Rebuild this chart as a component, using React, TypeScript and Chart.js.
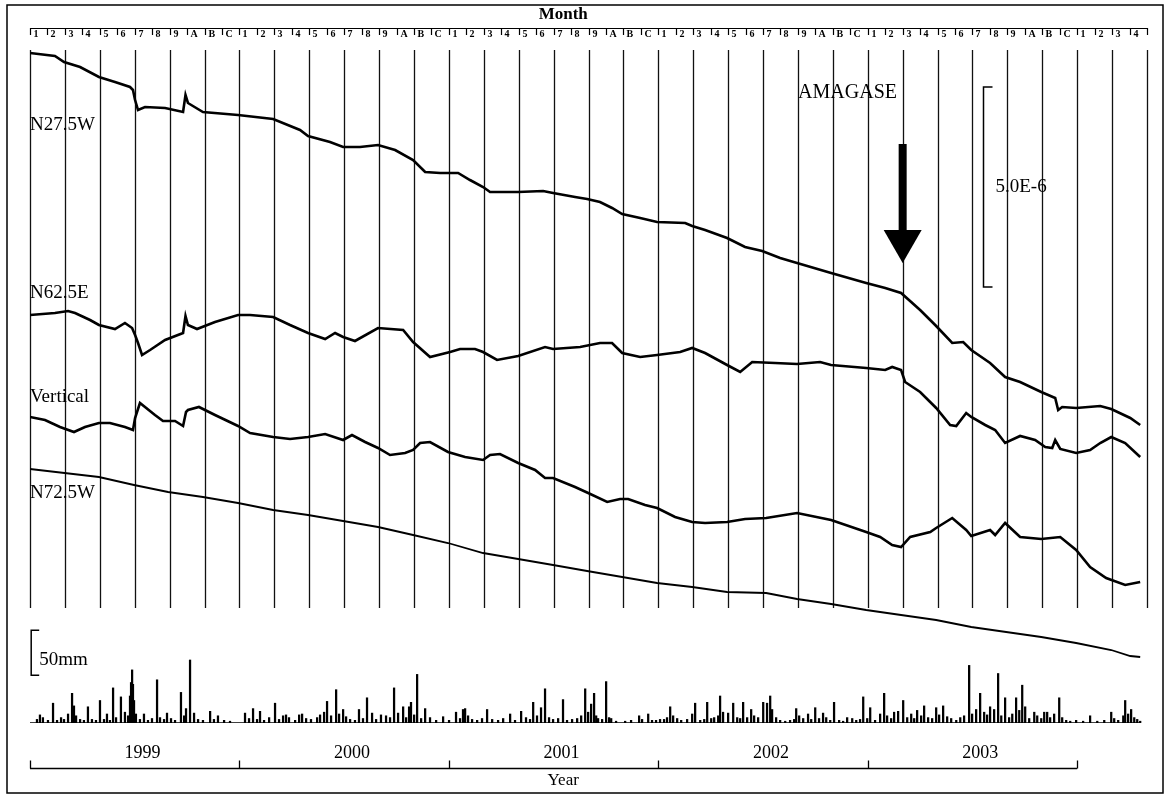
import React, { useEffect, useRef } from 'react';
import { Chart, registerables } from 'chart.js';

Chart.register(...registerables);

// ---------------- data ----------------
const monthLabels = ['1', '2', '3', '4', '5', '6', '7', '8', '9', 'A', 'B', 'C'];
const totalMonths = 64; // Jan 1999 .. Apr 2004
const yearLabels = ['1999', '2000', '2001', '2002', '2003'];
const seriesNames = ['N27.5W', 'N62.5E', 'Vertical', 'N72.5W'];

// strain records: [month index from Jan 1999, strain in 1e-7 (arbitrary offset)]
const n275w: [number, number][] = [
  [0, 167.5], [1.43, 166.75], [1.95, 165.25], [2.87, 164], [3.95, 161.5], [4.87, 160.25], [5.73, 159],
  [5.9, 158.25], [6.02, 155.75], [6.19, 153.25], [6.59, 154], [7.74, 153.75], [8.77, 152.75], [8.91, 157],
  [9.05, 155], [9.91, 152.75], [11.92, 152], [13.93, 151], [15.47, 148.25], [15.93, 146.75], [17.19, 145.25],
  [17.94, 144], [18.91, 144], [19.94, 144.5], [20.92, 143.25], [21.95, 140.75], [22.64, 137.75], [23.5, 137.5],
  [24.53, 137.5], [25.21, 135.75], [25.96, 134], [26.36, 132.75], [27.97, 132.75], [29.4, 133], [29.97, 132.5],
  [31.23, 131.5], [31.92, 131], [32.66, 130.25], [33.35, 128.75], [33.93, 127.25], [34.96, 126.25], [35.93, 125.25],
  [37.54, 125], [37.94, 124.25], [38.68, 123.25], [39.94, 121.25], [40.97, 119], [41.95, 118], [42.98, 116.25],
  [43.95, 115], [45.9, 112.5], [47.91, 110], [49, 108.75], [49.91, 107.5], [51, 103.25], [51.92, 99.25],
  [52.84, 95], [53.47, 95.25], [53.93, 93.25], [55.01, 90], [55.87, 86.5], [56.73, 85.25], [57.94, 82.75],
  [58.74, 81.25], [58.91, 78.25], [59.14, 79], [59.94, 78.75], [61.32, 79.25], [61.95, 78.5], [63.04, 76.25],
  [63.61, 74.5],
];

const n625e: [number, number][] = [
  [0, 102], [1.43, 102.5], [2.18, 103], [2.58, 102.5], [3.44, 100.75], [3.95, 99.5], [4.87, 98.5], [5.44, 100],
  [5.85, 98.75], [6.02, 97], [6.19, 95], [6.42, 92], [6.88, 93.25], [7.74, 95.75], [8.77, 97.5], [8.91, 101.75],
  [9.05, 99.5], [9.57, 98.5], [10.6, 100.25], [11.92, 102], [12.61, 102], [13.93, 101.5], [14.9, 99.5],
  [15.93, 97.5], [16.91, 96], [17.48, 97.5], [17.94, 96.5], [18.62, 95.5], [19.94, 98.75], [21.38, 98.25],
  [21.95, 95.25], [22.92, 91.5], [24.07, 92.75], [24.64, 93.5], [25.5, 93.5], [25.96, 92.75], [26.76, 90.75],
  [27.97, 91.75], [29.51, 94], [29.97, 93.5], [31.52, 94], [32.66, 95], [33.35, 95], [33.93, 92.5], [34.96, 91.5],
  [35.93, 92], [37.25, 92.75], [37.94, 93.75], [38.68, 92.5], [39.94, 89.5], [40.69, 87.75], [41.38, 90.25],
  [42.69, 90], [43.95, 89.75], [45.27, 90.25], [45.9, 89.5], [47.91, 88.75], [49, 88.25], [49.4, 89],
  [49.91, 88.25], [50.14, 85.25], [51, 82.75], [51.92, 78.75], [52.72, 74.5], [53.07, 74.25], [53.64, 77.5],
  [53.93, 76.5], [54.73, 74.5], [55.3, 73.25], [55.87, 70], [56.73, 71.75], [57.59, 70.75], [58.17, 69],
  [58.57, 68.75], [58.74, 70.75], [59.03, 68.5], [59.94, 67.5], [60.74, 68.25], [61.32, 70], [61.95, 71.5],
  [62.75, 70], [63.61, 66.5],
];

const vertical: [number, number][] = [
  [0, 76.5], [0.86, 75.75], [1.72, 74], [2.52, 72.75], [3.15, 74], [3.95, 75], [4.58, 75], [5.44, 74],
  [5.9, 73.25], [6.02, 76.25], [6.3, 80], [7.16, 77], [7.62, 75.5], [8.31, 75.5], [8.77, 74.25], [8.94, 77.75],
  [9.05, 78.25], [9.68, 79], [10.6, 77], [11.92, 74.25], [12.61, 72.5], [13.93, 71.5], [14.9, 71], [15.93, 71.5],
  [16.91, 72.25], [17.94, 70.75], [18.45, 72], [19.2, 70.25], [19.94, 68.75], [20.63, 67], [21.49, 67.5],
  [21.95, 68.25], [22.35, 70], [22.92, 70.25], [23.95, 67.75], [24.93, 66.5], [25.96, 65.75], [26.36, 67],
  [26.93, 67.25], [27.97, 65], [28.94, 63.25], [29.51, 61.25], [29.97, 61.25], [31.23, 59], [31.98, 57.5],
  [33.07, 55.25], [33.81, 56], [34.27, 56], [35.24, 54.5], [35.93, 53.75], [36.96, 51.5], [37.94, 50.25],
  [38.68, 50], [39.94, 50.25], [40.97, 51], [42.18, 51.25], [43.95, 52.5], [45.9, 50.75], [47.91, 47.75],
  [48.71, 46.5], [49.4, 44.5], [49.91, 44], [50.43, 46.5], [51.58, 47.75], [51.92, 48.75], [52.84, 51.25],
  [53.64, 48.25], [53.93, 46.75], [55.01, 48.25], [55.3, 47], [55.87, 50], [56.73, 46.5], [57.94, 46],
  [59.03, 46.5], [59.94, 43.25], [60.74, 39], [61.66, 36.25], [62.75, 34.5], [63.61, 35.25],
];

const n725w: [number, number][] = [
  [0, 63.5], [3.95, 61.5], [5.96, 59.5], [7.91, 57.75], [9.91, 56.5], [11.92, 55], [13.93, 53.25], [15.93, 52],
  [17.94, 50.5], [19.94, 49], [21.95, 47], [23.95, 45], [25.96, 42.5], [27.97, 41], [29.97, 39.5], [31.92, 38],
  [33.93, 36.5], [35.93, 35], [37.94, 34], [39.94, 32.75], [42.18, 32.5], [43.95, 31], [45.9, 29.75],
  [47.91, 28.25], [49.91, 27], [51.92, 25.75], [53.93, 24], [55.93, 22.75], [57.94, 21.5], [59.94, 20],
  [61.95, 18.25], [63.04, 16.75], [63.61, 16.5],
];

// daily rainfall events: [month index, mm]
const rainEvents: [number, number][] = [
  [0.4, 4], [0.57, 9], [0.74, 6], [1.03, 3], [1.32, 22], [1.55, 3], [1.78, 6], [1.95, 4], [2.18, 10], [2.41, 33],
  [2.52, 19], [2.64, 8], [2.87, 4], [3.09, 3], [3.32, 18], [3.55, 4], [3.78, 3], [4.01, 25], [4.24, 4], [4.41, 10],
  [4.58, 3], [4.76, 39], [4.93, 6], [5.21, 29], [5.44, 12], [5.62, 8], [5.73, 30], [5.79, 45], [5.85, 59],
  [5.9, 43], [5.96, 25], [6.07, 10], [6.3, 4], [6.53, 10], [6.76, 3], [6.99, 5], [7.28, 48], [7.45, 6], [7.68, 4],
  [7.85, 11], [8.08, 5], [8.31, 3], [8.65, 34], [8.83, 8], [8.94, 16], [9.17, 70], [9.4, 11], [9.63, 4],
  [9.91, 3], [10.32, 13], [10.54, 4], [10.77, 8], [11.12, 3], [11.46, 2], [12.32, 11], [12.55, 5], [12.78, 16],
  [13.01, 4], [13.18, 13], [13.41, 3], [13.7, 6], [14.04, 22], [14.27, 4], [14.5, 8], [14.67, 9], [14.84, 6],
  [15.19, 3], [15.42, 9], [15.59, 10], [15.82, 5], [16.1, 4], [16.45, 6], [16.62, 9], [16.85, 12], [17.02, 24],
  [17.25, 8], [17.54, 37], [17.71, 10], [17.94, 15], [18.11, 7], [18.34, 4], [18.62, 3], [18.85, 15], [19.08, 5],
  [19.31, 28], [19.6, 11], [19.83, 4], [20.11, 9], [20.4, 8], [20.63, 6], [20.86, 39], [21.09, 11], [21.38, 18],
  [21.55, 6], [21.72, 18], [21.83, 23], [22.01, 9], [22.18, 54], [22.41, 5], [22.64, 16], [22.92, 6], [23.27, 3],
  [23.67, 7], [24.01, 3], [24.41, 12], [24.64, 5], [24.81, 15], [24.93, 16], [25.1, 8], [25.33, 4], [25.62, 3],
  [25.9, 5], [26.19, 15], [26.48, 4], [26.82, 3], [27.11, 5], [27.51, 10], [27.79, 3], [28.14, 13], [28.42, 6],
  [28.65, 4], [28.83, 23], [29.05, 8], [29.28, 17], [29.51, 38], [29.74, 6], [29.97, 4], [30.26, 5], [30.54, 26],
  [30.77, 3], [31.06, 4], [31.35, 5], [31.58, 8], [31.81, 38], [31.98, 12], [32.15, 21], [32.32, 33], [32.44, 8],
  [32.55, 5], [32.78, 4], [33.01, 46], [33.18, 6], [33.3, 5], [33.58, 2], [34.1, 2], [34.44, 3], [34.9, 8],
  [35.07, 4], [35.42, 10], [35.64, 3], [35.87, 3], [36.1, 4], [36.33, 4], [36.5, 6], [36.68, 18], [36.85, 8],
  [37.08, 5], [37.31, 3], [37.65, 4], [37.94, 10], [38.11, 22], [38.4, 3], [38.63, 4], [38.8, 23], [39.03, 5],
  [39.2, 6], [39.43, 8], [39.54, 30], [39.71, 12], [40, 11], [40.29, 22], [40.52, 6], [40.69, 5], [40.86, 23],
  [41.09, 6], [41.32, 15], [41.49, 8], [41.72, 6], [42.01, 23], [42.23, 22], [42.41, 30], [42.52, 15], [42.75, 6],
  [42.98, 3], [43.27, 2], [43.55, 3], [43.78, 4], [43.9, 16], [44.07, 8], [44.3, 5], [44.58, 10], [44.76, 4],
  [44.99, 17], [45.21, 5], [45.44, 11], [45.62, 6], [45.85, 3], [46.07, 23], [46.36, 3], [46.59, 2], [46.82, 6],
  [47.11, 5], [47.34, 3], [47.56, 4], [47.74, 29], [47.97, 5], [48.14, 17], [48.42, 3], [48.71, 10], [48.94, 33],
  [49.11, 8], [49.34, 5], [49.51, 12], [49.74, 13], [50.03, 25], [50.26, 6], [50.49, 10], [50.66, 5], [50.83, 14],
  [51.06, 8], [51.23, 19], [51.46, 6], [51.69, 5], [51.92, 17], [52.09, 9], [52.32, 19], [52.55, 7], [52.78, 5],
  [53.07, 3], [53.3, 6], [53.52, 8], [53.81, 64], [53.98, 10], [54.21, 15], [54.44, 33], [54.67, 12], [54.84, 9],
  [55.01, 18], [55.24, 15], [55.47, 55], [55.65, 8], [55.87, 28], [56.1, 6], [56.28, 10], [56.5, 28], [56.68, 14],
  [56.85, 42], [57.02, 18], [57.25, 5], [57.54, 12], [57.71, 8], [57.94, 5], [58.11, 12], [58.28, 12], [58.45, 6],
  [58.68, 10], [58.97, 28], [59.14, 6], [59.37, 3], [59.6, 2], [59.94, 3], [60.34, 2], [60.74, 8], [61.15, 2],
  [61.55, 3], [61.95, 12], [62.12, 5], [62.35, 3], [62.64, 8], [62.75, 25], [62.92, 10], [63.09, 15], [63.27, 6],
  [63.44, 4], [63.61, 2],
];

// annotations, in data units
const seriesLabelLevels = [149.5, 107.5, 81.5, 57.5]; // strain (1e-7) at label centre
const quakeMonth = 50; // March 2003
const quakeLabel = 'AMAGASE';
const quakeLabelAt: [number, number] = [44.01, 157.5];
const arrowLevels = [144.75, 123.25, 115]; // shaft top, head base, tip (strain units)
const strainBar = { month: 54.61, from: 109, to: 159, label: '5.0E-6' };
const rainBar = { month: 0.04, from: 53, to: 103, labelAt: 70, label: '50mm' };
const gridRange = [28.75, 168.25]; // strain units covered by the month grid
const rainEnd = 63.61;
const titleCenterMonth = 30.55;
const yearLabelOffset = 6.45;

const SERIF = '"Liberation Serif", "Times New Roman", serif';

const decorPlugin = {
  id: 'decor',
  beforeDatasetsDraw(chart: any) {
    const { ctx } = chart;
    const x = chart.scales.x;
    const y = chart.scales.y;
    ctx.save();
    ctx.strokeStyle = '#111';
    ctx.lineWidth = 1.3;
    const top = y.getPixelForValue(gridRange[1]);
    const bot = y.getPixelForValue(gridRange[0]);
    for (let m = 0; m <= totalMonths; m += 2) {
      const px = Math.round(x.getPixelForValue(m)) + 0.5;
      ctx.beginPath();
      ctx.moveTo(px, top);
      ctx.lineTo(px, bot);
      ctx.stroke();
    }
    ctx.restore();
  },
  afterDraw(chart: any) {
    const { ctx, chartArea } = chart;
    const x = chart.scales.x;
    const y = chart.scales.y;
    const yr = chart.scales.yRain;
    ctx.save();
    ctx.fillStyle = '#000';
    ctx.strokeStyle = '#000';

    // outer frame
    ctx.lineWidth = 1.5;
    ctx.strokeRect(7, 5, chart.width - 10, chart.height - 9);

    // Month title
    ctx.font = `bold 17px ${SERIF}`;
    ctx.textAlign = 'center';
    ctx.textBaseline = 'middle';
    ctx.fillText('Month', x.getPixelForValue(titleCenterMonth), chartArea.top - 32);

    // month row
    const rowY = chartArea.top - 19;
    ctx.lineWidth = 1.2;
    ctx.beginPath();
    ctx.moveTo(x.getPixelForValue(0), rowY + 0.5);
    ctx.lineTo(x.getPixelForValue(totalMonths), rowY + 0.5);
    ctx.stroke();
    ctx.font = `bold 10px ${SERIF}`;
    ctx.textAlign = 'left';
    ctx.textBaseline = 'alphabetic';
    for (let m = 0; m <= totalMonths; m++) {
      const px = Math.round(x.getPixelForValue(m)) + 0.5;
      ctx.beginPath();
      ctx.moveTo(px, rowY);
      ctx.lineTo(px, rowY + 7);
      ctx.stroke();
      if (m < totalMonths) ctx.fillText(monthLabels[m % 12], px + 3, rowY + 9);
    }

    // series labels
    ctx.font = `19px ${SERIF}`;
    ctx.textBaseline = 'middle';
    ctx.textAlign = 'left';
    seriesNames.forEach((name, i) => {
      ctx.fillText(name, x.getPixelForValue(0), y.getPixelForValue(seriesLabelLevels[i]));
    });

    // earthquake label + arrow
    ctx.font = `20px ${SERIF}`;
    ctx.fillText(quakeLabel, x.getPixelForValue(quakeLabelAt[0]), y.getPixelForValue(quakeLabelAt[1]));
    const ax = x.getPixelForValue(quakeMonth);
    const sTop = y.getPixelForValue(arrowLevels[0]);
    const hBase = y.getPixelForValue(arrowLevels[1]);
    const tip = y.getPixelForValue(arrowLevels[2]);
    ctx.fillRect(ax - 4, sTop, 8, hBase - sTop + 1);
    ctx.beginPath();
    ctx.moveTo(ax - 19, hBase);
    ctx.lineTo(ax + 19, hBase);
    ctx.lineTo(ax, tip);
    ctx.closePath();
    ctx.fill();

    // strain scale bar
    ctx.lineWidth = 1.5;
    const bx = Math.round(x.getPixelForValue(strainBar.month)) + 0.5;
    const bTop = y.getPixelForValue(strainBar.to);
    const bBot = y.getPixelForValue(strainBar.from);
    ctx.beginPath();
    ctx.moveTo(bx + 9, bTop);
    ctx.lineTo(bx, bTop);
    ctx.lineTo(bx, bBot);
    ctx.lineTo(bx + 9, bBot);
    ctx.stroke();
    ctx.font = `19px ${SERIF}`;
    ctx.fillText(strainBar.label, bx + 12, (bTop + bBot) / 2);

    // rain scale bar
    const rx = x.getPixelForValue(rainBar.month) + 0.5;
    const rTop = yr.getPixelForValue(rainBar.to);
    const rBot = yr.getPixelForValue(rainBar.from);
    ctx.beginPath();
    ctx.moveTo(rx + 8, rTop);
    ctx.lineTo(rx, rTop);
    ctx.lineTo(rx, rBot);
    ctx.lineTo(rx + 8, rBot);
    ctx.stroke();
    ctx.fillText(rainBar.label, rx + 8, yr.getPixelForValue(rainBar.labelAt));

    // year axis
    const axisY = chartArea.bottom + 45.5;
    ctx.lineWidth = 1.3;
    ctx.beginPath();
    ctx.moveTo(x.getPixelForValue(0), axisY);
    ctx.lineTo(x.getPixelForValue(yearLabels.length * 12), axisY);
    ctx.stroke();
    for (let i = 0; i <= yearLabels.length; i++) {
      const px = Math.round(x.getPixelForValue(i * 12)) + 0.5;
      ctx.beginPath();
      ctx.moveTo(px, axisY);
      ctx.lineTo(px, axisY - 8);
      ctx.stroke();
    }
    ctx.font = `18px ${SERIF}`;
    ctx.textAlign = 'center';
    yearLabels.forEach((lab, i) => {
      ctx.fillText(lab, x.getPixelForValue(i * 12 + yearLabelOffset), chartArea.bottom + 30);
    });
    ctx.font = `17px ${SERIF}`;
    ctx.fillText('Year', x.getPixelForValue(titleCenterMonth), chartArea.bottom + 58);
    ctx.restore();
  },
};

export default function App() {
  const ref = useRef<HTMLCanvasElement | null>(null);
  useEffect(() => {
    if (!ref.current) return;
    const lineDs = (label: string, data: [number, number][], width: number) => ({
      type: 'line' as const,
      label,
      data: data.map(([m, v]) => ({ x: m, y: v })),
      yAxisID: 'y',
      borderColor: '#000',
      borderWidth: width,
      pointRadius: 0,
      tension: 0,
      fill: false,
    });
    const chart = new Chart(ref.current, {
      type: 'line',
      data: {
        datasets: [
          {
            type: 'bar',
            label: 'Rain',
            data: rainEvents.map(([m, mm]) => ({ x: m, y: mm })),
            yAxisID: 'yRain',
            xAxisID: 'x',
            backgroundColor: '#000',
            borderWidth: 0,
            barThickness: 1.6,
            grouped: false,
          } as any,
          {
            type: 'line',
            label: 'Rain base',
            data: [{ x: 0, y: 0 }, { x: rainEnd, y: 0 }],
            yAxisID: 'yRain',
            borderColor: '#000',
            borderWidth: 1.5,
            pointRadius: 0,
          },
          lineDs(seriesNames[0], n275w, 2.6),
          lineDs(seriesNames[1], n625e, 2.6),
          lineDs(seriesNames[2], vertical, 2.6),
          lineDs(seriesNames[3], n725w, 1.8),
        ],
      },
      options: {
        responsive: false,
        animation: false,
        layout: { padding: { left: 30, right: 19, top: 47, bottom: 74 } },
        plugins: { legend: { display: false }, tooltip: { enabled: false }, title: { display: false } },
        scales: {
          x: { type: 'linear', min: 0, max: totalMonths, display: false, offset: false },
          y: { type: 'linear', min: 0, max: 169, display: false },
          yRain: { type: 'linear', min: 0, max: 676 / 0.9, display: false },
        },
      },
      plugins: [decorPlugin],
    });
    return () => chart.destroy();
  }, []);
  return (
    <div style={{ position: 'absolute', left: 0, top: 0, width: 1166, height: 797, background: '#fff' }}>
      <canvas ref={ref} width={1166} height={797} style={{ display: 'block' }} />
    </div>
  );
}
